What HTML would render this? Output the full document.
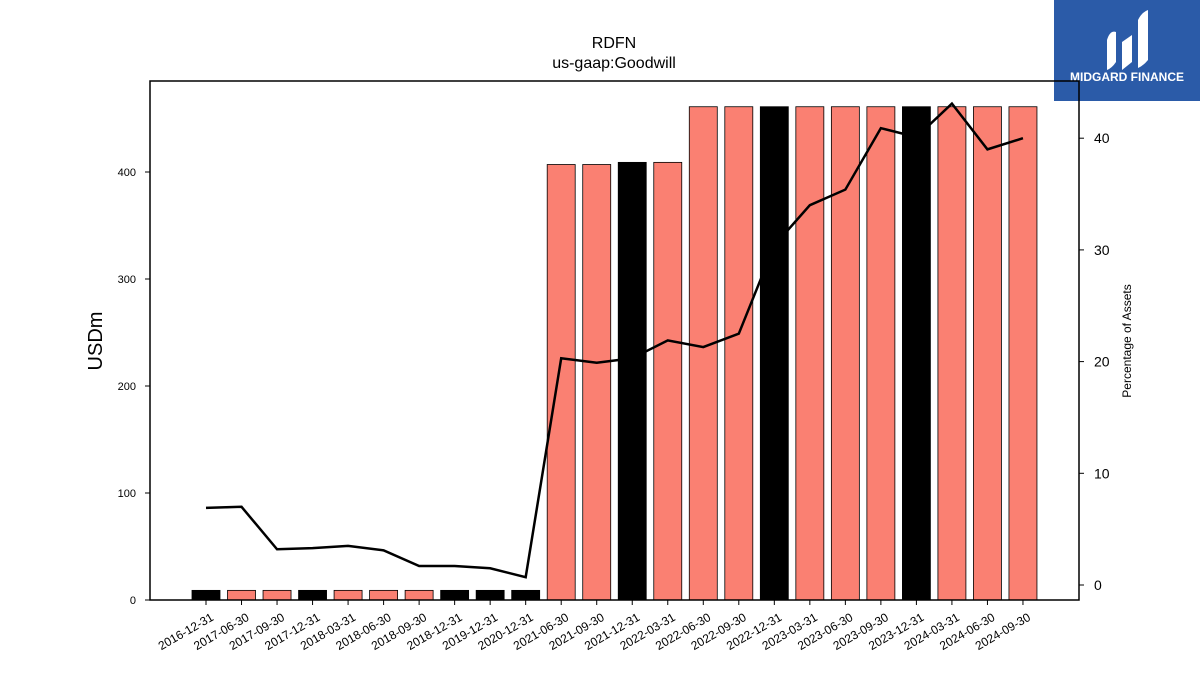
<!DOCTYPE html>
<html><head><meta charset="utf-8"><style>
body{margin:0;background:#fff;width:1200px;height:675px;overflow:hidden;font-family:"Liberation Sans","DejaVu Sans",sans-serif}
</style></head><body>
<svg id="c" width="1200" height="675" xmlns="http://www.w3.org/2000/svg">
<rect x="1054" y="0" width="146" height="101" fill="#2b5ba8"/>
<g fill="#fff">
<path d="M1107 70 L1107 40 Q1110 30 1116 32 L1116 62 Q1112 68 1107 70Z"/>
<path d="M1122 70 L1122 42 L1132 35 L1132 62Z"/>
<path d="M1138 68 L1138 20 Q1142 12 1148 10 L1148 60 Q1143 66 1138 68Z"/>
</g>
<text x="1127" y="81" fill="#fff" font-size="12" font-weight="bold" text-anchor="middle">MIDGARD FINANCE</text>
<text x="614" y="48" font-size="16" text-anchor="middle">RDFN</text>
<text x="614" y="68" font-size="16" text-anchor="middle">us-gaap:Goodwill</text>
<text transform="translate(102,341) rotate(-90)" font-size="20" text-anchor="middle">USDm</text>
<text transform="translate(1131,341) rotate(-90)" font-size="12" text-anchor="middle">Percentage of Assets</text>
<g id="bars"></g><g id="xt"></g><g id="yt"></g><g id="y2t"></g>
<path id="line" fill="none" stroke="#000" stroke-width="2.5"/>
<rect x="150" y="81" width="929" height="519" fill="none" stroke="#000" stroke-width="1.5"/>
</svg>
<script>
const categories=["2016-12-31","2017-06-30","2017-09-30","2017-12-31","2018-03-31","2018-06-30","2018-09-30","2018-12-31","2019-12-31","2020-12-31","2021-06-30","2021-09-30","2021-12-31","2022-03-31","2022-06-30","2022-09-30","2022-12-31","2023-03-31","2023-06-30","2023-09-30","2023-12-31","2024-03-31","2024-06-30","2024-09-30"];
const goodwill=[9,9,9,9,9,9,9,9,9,9,407,407,409,409,461,461,461,461,461,461,461,461,461,461];
const pctAssets=[6.9,7.0,3.2,3.3,3.5,3.1,1.7,1.7,1.5,0.7,20.3,19.9,20.3,21.9,21.3,22.5,30.4,34.0,35.4,40.9,40.1,43.1,39.0,40.0];
const yTicks=[0,100,200,300,400];
const y2Ticks=[0,10,20,30,40];
const NS="http://www.w3.org/2000/svg";
const x=i=>206+i*35.52;
const y=v=>600-v*1.07;
const y2=v=>585-v*11.17;
function mk(t,a,p){const e=document.createElementNS(NS,t);for(const k in a)e.setAttribute(k,a[k]);document.getElementById(p).appendChild(e);return e;}
categories.forEach((c,i)=>{
 const b=mk("rect",{x:x(i)-14,y:y(goodwill[i]),width:28,height:600-y(goodwill[i]),fill:c.endsWith("12-31")?"#000":"#fa8072",stroke:"#000","stroke-width":0.8},"bars");
 
 
 const tk=mk("line",{x1:x(i),x2:x(i),y1:600,y2:605,stroke:"#000"},"xt");
 
 
 const t=mk("text",{transform:`translate(${x(i)+4},${612}) rotate(-30)`,"font-size":12,"text-anchor":"end","dominant-baseline":"hanging"},"xt");
 t.textContent=c;
 
 
});
yTicks.forEach(v=>{
 const l=mk("line",{x1:145,x2:150,y1:y(v),y2:y(v),stroke:"#000"},"yt");
 
 
 const t=mk("text",{x:136,y:y(v)+4,"font-size":11,"text-anchor":"end"},"yt");
 t.textContent=v;
 
 
});
y2Ticks.forEach(v=>{
 const l=mk("line",{x1:1079,x2:1084,y1:y2(v),y2:y2(v),stroke:"#000"},"y2t");
 
 
 const t=mk("text",{x:1094,y:y2(v)+5,"font-size":14},"y2t");
 t.textContent=v;
 
 
});
document.getElementById("line").setAttribute("d",pctAssets.map((v,i)=>(i?"L":"M")+x(i)+" "+y2(v)).join(" "));
</script>
</body></html>
